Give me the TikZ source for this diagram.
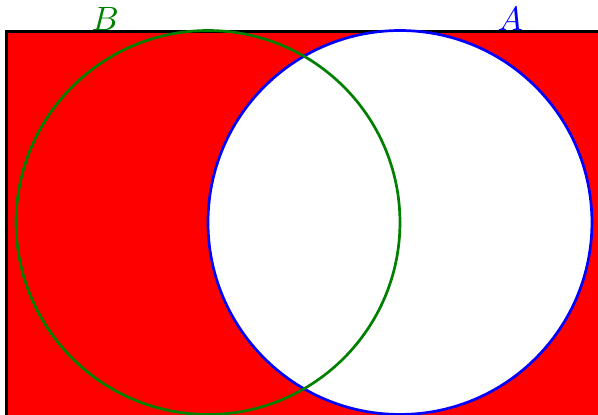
\documentclass[tikz,border=0pt]{standalone}
\usepackage{tikz}
\usetikzlibrary{positioning}
\definecolor{vert}{RGB}{0,128,0}

\begin{document}
\begin{tikzpicture}[ensemble/.style={thick}]
				\useasboundingbox (-2.167,-2.005) rectangle (4.063,2.318);
				\begin{scope}
					\clip (-2.167,-2.005) rectangle (4.063,2.318);
					% Univers
					\draw[thick, fill=red] (-2.1,-3) rectangle (5,1.99);
					% Ensemble A
					\draw[ensemble, blue, fill=white] (2,0) circle (2);
					% Ensemble B
					\draw[ensemble, vert] (0,0) circle (2);
				\end{scope}
				\coordinate (hautB) at (-1.07,1.99);
				\coordinate (hautA) at (3.15,1.99);
				\node[above=-1pt of hautB, vert, inner sep=1pt] (labB) {$B$};
				\node[above=-1pt of hautA, blue, inner sep=1pt] (labA) {$A$};
			\end{tikzpicture}
\end{document}
